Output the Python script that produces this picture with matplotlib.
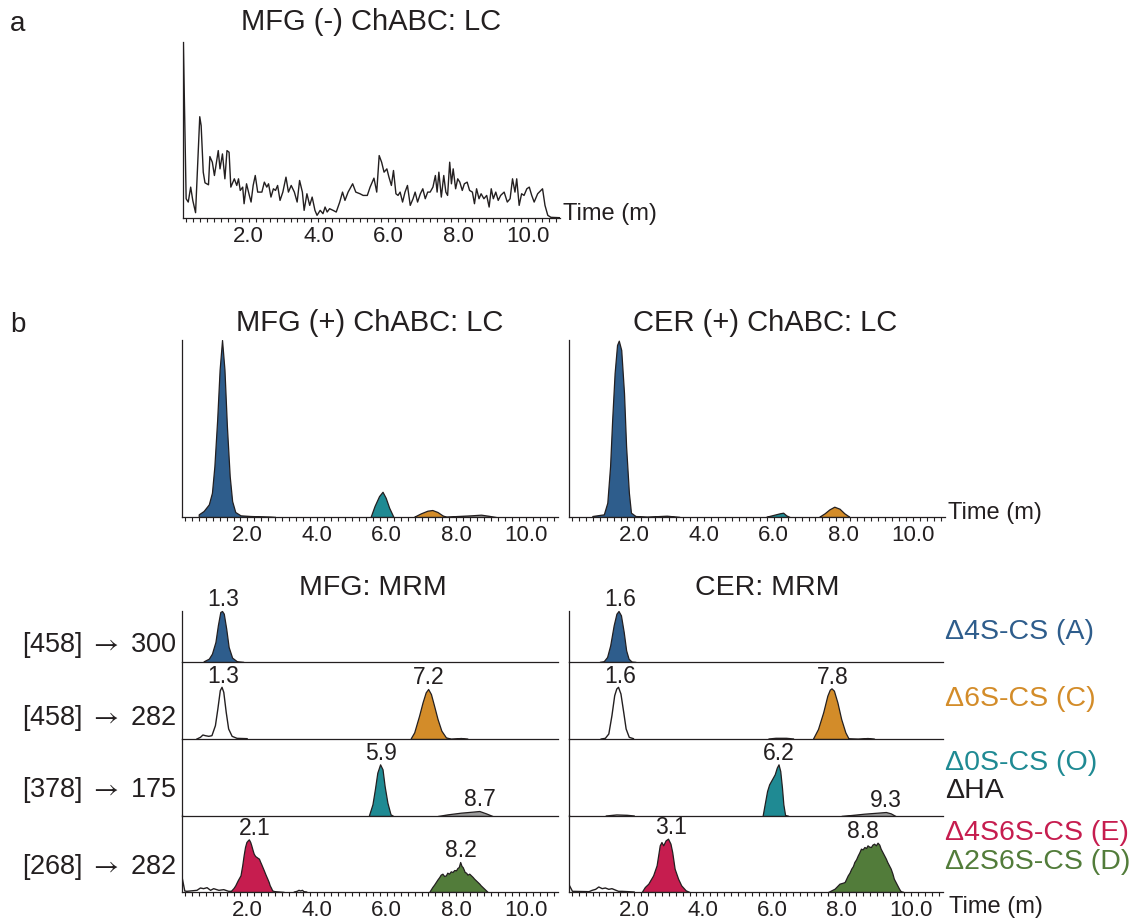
import numpy as np
import matplotlib
matplotlib.use('Agg')
import matplotlib.pyplot as plt
from matplotlib.ticker import MultipleLocator

plt.rcParams['font.family'] = ['Liberation Sans', 'DejaVu Sans']
plt.rcParams['mathtext.fontset'] = 'stixsans'

# ---------------- colours ----------------
INK = '#231f20'
C_A = '#2e5d8c'   # Δ4S-CS (A)
C_C = '#d38c29'   # Δ6S-CS (C)
C_O = '#1f8a93'   # Δ0S-CS (O)
C_HA = '#9c9c9c'  # ΔHA
C_E = '#c61d4f'   # Δ4S6S-CS (E)
C_D = '#527c3a'   # Δ2S6S-CS (D)
C_W = None        # unfilled trace

# ---------------- data ----------------
TICK_POS = [2, 4, 6, 8, 10]
TICK_LABELS = ['2.0', '4.0', '6.0', '8.0', '10.0']
XLIM = (0.12, 10.92)

# panel a: MFG (-) ChABC LC trace  (time [min], intensity [a.u.])
a_trace = [
    (0.13, 530), (0.21, 58), (0.27, 48), (0.34, 93), (0.40, 53), (0.48, 16), (0.60, 305), (0.64, 278),
    (0.70, 138), (0.75, 106), (0.85, 100), (0.89, 185), (0.96, 168), (1.02, 128), (1.13, 203), (1.18, 148),
    (1.25, 193), (1.32, 118), (1.38, 203), (1.44, 198), (1.49, 93), (1.59, 118), (1.66, 98), (1.71, 118),
    (1.76, 83), (1.83, 93), (1.87, 43), (1.94, 103), (2.02, 68), (2.07, 48), (2.13, 98), (2.19, 128),
    (2.26, 78), (2.38, 78), (2.45, 108), (2.52, 93), (2.57, 103), (2.64, 63), (2.71, 88), (2.77, 83),
    (2.83, 98), (2.90, 53), (2.98, 78), (3.07, 123), (3.14, 78), (3.22, 98), (3.31, 78), (3.39, 48),
    (3.46, 113), (3.54, 78), (3.59, 23), (3.67, 73), (3.75, 38), (3.82, 63), (3.90, 23), (3.96, 8),
    (4.05, 23), (4.13, 13), (4.19, 33), (4.25, 18), (4.32, 28), (4.42, 23), (4.51, 18), (4.61, 48),
    (4.69, 78), (4.76, 53), (4.85, 78), (4.98, 103), (5.07, 78), (5.19, 73), (5.28, 68), (5.40, 68),
    (5.48, 93), (5.59, 120), (5.67, 78), (5.74, 188), (5.81, 168), (5.88, 138), (5.96, 148), (6.02, 123),
    (6.09, 98), (6.15, 143), (6.22, 73), (6.28, 68), (6.34, 78), (6.41, 48), (6.48, 78), (6.55, 98),
    (6.63, 38), (6.71, 58), (6.77, 78), (6.84, 48), (6.92, 73), (6.99, 88), (7.06, 58), (7.13, 78),
    (7.20, 78), (7.28, 93), (7.35, 128), (7.40, 78), (7.45, 138), (7.52, 63), (7.59, 128), (7.65, 78),
    (7.70, 68), (7.76, 168), (7.81, 103), (7.86, 148), (7.93, 88), (7.99, 118), (8.05, 108), (8.12, 83),
    (8.18, 103), (8.26, 108), (8.33, 83), (8.41, 78), (8.47, 43), (8.53, 88), (8.60, 58), (8.66, 73),
    (8.74, 58), (8.82, 68), (8.89, 33), (8.95, 88), (9.01, 58), (9.08, 78), (9.15, 53), (9.22, 68),
    (9.32, 78), (9.41, 48), (9.49, 58), (9.56, 118), (9.63, 78), (9.68, 118), (9.75, 38), (9.82, 73),
    (9.89, 68), (9.97, 88), (10.04, 93), (10.11, 68), (10.18, 48), (10.28, 73), (10.42, 88), (10.49, 38),
    (10.57, 8), (10.66, 2), (10.90, 1),
]

# panel b, LC (+) ChABC -- MFG
lc_mfg_A = [(0.60, 8), (0.74, 18), (0.89, 38), (0.98, 73), (1.05, 153), (1.13, 293), (1.20, 443),
            (1.27, 533), (1.34, 443), (1.41, 273), (1.49, 123), (1.56, 48), (1.65, 15), (1.80, 5),
            (2.09, 3), (2.66, 1), (2.80, 0)]
lc_mfg_O = [(5.54, 1), (5.65, 33), (5.78, 63), (5.88, 76), (5.97, 58), (6.07, 28), (6.19, 1)]
lc_mfg_C = [(6.79, 1), (6.98, 11), (7.17, 19), (7.31, 21), (7.46, 15), (7.60, 5), (7.70, 1)]
lc_mfg_HA = [(7.70, 1), (8.03, 3), (8.42, 5), (8.71, 7), (8.91, 4), (9.14, 0)]

# panel b, LC (+) ChABC -- CER
lc_cer_A = [(0.79, 3), (1.12, 8), (1.22, 43), (1.30, 153), (1.36, 293), (1.43, 433), (1.50, 518),
            (1.55, 531), (1.62, 503), (1.70, 373), (1.76, 213), (1.84, 73), (1.90, 13), (2.03, 3),
            (2.36, 1), (2.74, 3), (2.93, 4), (3.12, 2), (3.30, 0)]
lc_cer_O = [(5.79, 1), (5.98, 6), (6.17, 11), (6.27, 13), (6.36, 5), (6.46, 0)]
lc_cer_C = [(7.31, 1), (7.46, 11), (7.60, 23), (7.74, 31), (7.89, 25), (8.03, 11), (8.17, 1)]

# MRM transitions
MRM_LABELS = [r'[458] $\rightarrow$ 300', r'[458] $\rightarrow$ 282',
              r'[378] $\rightarrow$ 175', r'[268] $\rightarrow$ 282']

# MFG: MRM
mfg_r1_A = [(0.74, 2), (0.89, 10), (0.98, 25), (1.08, 60), (1.15, 110), (1.22, 150), (1.27, 153),
            (1.32, 145), (1.39, 100), (1.46, 45), (1.56, 13), (1.70, 2), (1.89, 0)]
mfg_r2_W = [(0.55, 0), (0.65, 5), (0.72, 12), (0.79, 10), (0.89, 8), (0.98, 10), (1.08, 40), (1.15, 90),
            (1.22, 145), (1.27, 155), (1.32, 140), (1.39, 80), (1.46, 30), (1.56, 8), (1.70, 2), (1.99, 1)]
mfg_r2_C = [(6.69, 2), (6.79, 20), (6.93, 70), (7.03, 110), (7.12, 140), (7.19, 150), (7.27, 135),
            (7.36, 100), (7.46, 60), (7.57, 25), (7.70, 5), (7.84, 1), (8.13, 3), (8.32, 1)]
mfg_r3_O = [(5.49, 2), (5.59, 35), (5.66, 80), (5.73, 130), (5.81, 155), (5.88, 140), (5.94, 90),
            (6.02, 40), (6.11, 5), (6.19, 0)]
mfg_r3_HA = [(7.46, 0), (7.75, 5), (8.13, 10), (8.46, 13), (8.66, 15), (8.85, 8), (9.04, 0)]
mfg_r4_W = [(0.13, 40), (0.20, 3), (0.26, 2), (0.55, 5), (0.65, 12), (0.74, 10), (0.84, 13), (0.94, 5),
            (1.03, 10), (1.18, 5), (1.32, 7), (1.46, 2), (1.51, 2)]
mfg_r4_W2 = [(3.35, 0), (3.43, 2), (3.48, 5), (3.53, 3), (3.58, 5), (3.62, 1), (3.70, 0)]
mfg_r4_E = [(1.51, 2), (1.60, 12), (1.65, 20), (1.72, 35), (1.80, 50), (1.85, 80), (1.89, 110), (1.93, 135),
            (1.97, 150), (2.01, 155), (2.04, 158), (2.08, 150), (2.11, 140), (2.15, 125), (2.18, 115),
            (2.22, 108), (2.26, 105), (2.30, 102), (2.33, 100), (2.36, 92), (2.39, 85), (2.43, 75),
            (2.47, 65), (2.52, 52), (2.57, 40), (2.61, 30), (2.64, 20), (2.68, 12), (2.71, 5), (2.76, 3),
            (2.81, 2), (3.05, 0)]
mfg_r4_D = [(7.22, 0), (7.31, 15), (7.36, 22), (7.41, 30), (7.46, 38), (7.51, 45), (7.55, 52), (7.60, 55),
            (7.65, 48), (7.70, 50), (7.74, 58), (7.79, 55), (7.84, 62), (7.89, 60), (7.94, 66), (7.99, 65),
            (8.03, 72), (8.07, 75), (8.11, 90), (8.15, 78), (8.18, 75), (8.21, 68), (8.24, 60), (8.28, 58),
            (8.32, 52), (8.37, 55), (8.42, 50), (8.47, 45), (8.51, 40), (8.56, 35), (8.61, 30), (8.66, 25),
            (8.70, 20), (8.75, 15), (8.80, 10), (8.85, 5), (8.90, 0)]

# CER: MRM
cer_r1_A = [(1.00, 0), (1.12, 2), (1.22, 15), (1.31, 50), (1.41, 110), (1.49, 145), (1.55, 153),
            (1.62, 140), (1.70, 90), (1.77, 35), (1.84, 10), (1.93, 1), (2.05, 0)]
cer_r2_W = [(1.05, 0), (1.17, 2), (1.27, 15), (1.36, 70), (1.44, 130), (1.50, 150), (1.55, 155),
            (1.62, 135), (1.70, 80), (1.77, 30), (1.86, 5), (1.98, 1)]
cer_r2_W2 = [(5.90, 0), (6.10, 2), (6.40, 2), (6.60, 0)]
cer_r2_C = [(7.17, 2), (7.31, 30), (7.46, 80), (7.58, 130), (7.65, 148), (7.70, 152), (7.77, 145),
            (7.87, 110), (7.98, 60), (8.10, 20), (8.19, 2), (8.46, 1), (8.74, 3), (8.93, 1)]
cer_r3_W = [(1.20, 0), (1.50, 3), (1.80, 2), (2.00, 0)]
cer_r3_O = [(5.71, 0), (5.77, 35), (5.84, 75), (5.90, 95), (5.98, 110), (6.06, 125), (6.12, 145),
            (6.17, 155), (6.22, 135), (6.27, 85), (6.31, 35), (6.36, 3), (6.46, 0)]
cer_r3_HA = [(7.98, 0), (8.27, 3), (8.65, 7), (9.03, 10), (9.27, 12), (9.41, 8), (9.55, 0)]
cer_r4_W = [(0.13, 20), (0.22, 2), (0.70, 1), (0.79, 5), (0.89, 8), (0.98, 15), (1.08, 10), (1.17, 12),
            (1.27, 8), (1.36, 10), (1.55, 2), (1.65, 2), (2.00, 0)]
cer_r4_E = [(2.22, 0), (2.31, 15), (2.41, 25), (2.55, 50), (2.65, 80), (2.74, 140), (2.79, 150),
            (2.84, 140), (2.91, 155), (2.98, 160), (3.05, 145), (3.10, 120), (3.17, 70), (3.27, 40),
            (3.36, 20), (3.49, 5), (3.60, 0)]
cer_r4_D = [(7.60, 0), (7.79, 10), (7.93, 25), (8.03, 28), (8.08, 30), (8.17, 50), (8.22, 58), (8.27, 70),
            (8.32, 78), (8.36, 90), (8.41, 98), (8.46, 110), (8.50, 118), (8.55, 130), (8.60, 128),
            (8.65, 135), (8.70, 132), (8.74, 140), (8.79, 136), (8.84, 135), (8.88, 142), (8.93, 145),
            (8.98, 140), (9.03, 148), (9.08, 142), (9.12, 130), (9.17, 120), (9.22, 110), (9.27, 100),
            (9.31, 90), (9.36, 80), (9.41, 70), (9.46, 55), (9.50, 40), (9.55, 30), (9.60, 20),
            (9.65, 10), (9.70, 2), (9.78, 0)]

# retention-time labels (text, row, position in minutes)
mfg_rt = [('1.3', 0, 1.3), ('1.3', 1, 1.3), ('7.2', 1, 7.2), ('5.9', 2, 5.85), ('8.7', 2, 8.68),
          ('2.1', 3, 2.2), ('8.2', 3, 8.13)]
cer_rt = [('1.6', 0, 1.6), ('1.6', 1, 1.6), ('7.8', 1, 7.75), ('6.2', 2, 6.17), ('9.3', 2, 9.27),
          ('3.1', 3, 3.08), ('8.8', 3, 8.6)]

LEGEND = [('\u03944S-CS (A)', C_A), ('\u03946S-CS (C)', C_C), ('\u03940S-CS (O)', C_O),
          ('\u0394HA', INK), ('\u03944S6S-CS (E)', C_E), ('\u03942S6S-CS (D)', C_D)]

# ---------------- figure ----------------
W, H = 1138, 920
fig = plt.figure(figsize=(W / 100, H / 100), dpi=100)


def add_ax(left, top, right, bottom):
    ax = fig.add_axes([left / W, 1 - bottom / H, (right - left) / W, (bottom - top) / H])
    ax.patch.set_alpha(0)
    for s in ('top', 'right'):
        ax.spines[s].set_visible(False)
    for s in ('left', 'bottom'):
        ax.spines[s].set_color(INK)
        ax.spines[s].set_linewidth(0.9)
    ax.set_xlim(*XLIM)
    ax.set_yticks([])
    return ax


def time_axis(ax):
    ax.set_xticks(TICK_POS)
    ax.set_xticklabels(TICK_LABELS)
    ax.xaxis.set_minor_locator(MultipleLocator(0.2))
    ax.tick_params(axis='x', which='both', direction='out', length=3, width=0.8,
                   color=INK, pad=2, labelsize=16, labelcolor=INK)


def no_ticks(ax):
    ax.set_xticks([])
    ax.tick_params(axis='x', which='both', bottom=False, labelbottom=False)


def draw(ax, arr, color):
    t = np.array([p[0] for p in arr])
    v = np.array([p[1] for p in arr])
    if color is None:
        ax.plot(t, v, color=INK, lw=1.0, solid_joinstyle='round')
    else:
        ax.fill_between(t, 0, v, facecolor=color, edgecolor=INK, linewidth=0.9)


def ftext(x, y, s, **kw):
    kw.setdefault('color', INK)
    fig.text(x / W, 1 - y / H, s, **kw)


# ---- panel a ----
ax = add_ax(183, 43, 560, 219)
ax.set_ylim(0, 530)
draw(ax, a_trace, None)
time_axis(ax)
ftext(10, 24, 'a', fontsize=20, ha='left', va='center')
ftext(371, 22, 'MFG (-) ChABC: LC', fontsize=21, ha='center', va='center')
ftext(563, 214, 'Time (m)', fontsize=17, ha='left', va='center')

# ---- panel b LC ----
ftext(10, 325, 'b', fontsize=20, ha='left', va='center')
ax = add_ax(182, 341, 558, 518)
ax.set_ylim(0, 533)
for arr, c in [(lc_mfg_HA, C_HA), (lc_mfg_A, C_A), (lc_mfg_O, C_O), (lc_mfg_C, C_C)]:
    draw(ax, arr, c)
time_axis(ax)
ftext(370, 323, 'MFG (+) ChABC: LC', fontsize=21, ha='center', va='center')

ax = add_ax(569, 341, 945, 518)
ax.set_ylim(0, 533)
for arr, c in [(lc_cer_A, C_A), (lc_cer_O, C_O), (lc_cer_C, C_C)]:
    draw(ax, arr, c)
time_axis(ax)
ftext(765, 323, 'CER (+) ChABC: LC', fontsize=21, ha='center', va='center')
ftext(948, 513, 'Time (m)', fontsize=17, ha='left', va='center')

# ---- MRM ----
ROW_BASE = [663, 740, 817, 893]
ROW_H = 77
YMAX = 231
mfg_rows = [[(mfg_r1_A, C_A)],
            [(mfg_r2_W, C_W), (mfg_r2_C, C_C)],
            [(mfg_r3_HA, C_HA), (mfg_r3_O, C_O)],
            [(mfg_r4_W, C_W), (mfg_r4_W2, C_W), (mfg_r4_E, C_E), (mfg_r4_D, C_D)]]
cer_rows = [[(cer_r1_A, C_A)],
            [(cer_r2_W, C_W), (cer_r2_W2, C_W), (cer_r2_C, C_C)],
            [(cer_r3_W, C_W), (cer_r3_HA, C_HA), (cer_r3_O, C_O)],
            [(cer_r4_W, C_W), (cer_r4_E, C_E), (cer_r4_D, C_D)]]

for (left, right, rows, rts) in [(182, 558, mfg_rows, mfg_rt), (569, 943, cer_rows, cer_rt)]:
    axes = []
    for r, base in enumerate(ROW_BASE):
        ax = add_ax(left, base - ROW_H, right, base)
        ax.set_ylim(0, YMAX)
        for arr, c in rows[r]:
            draw(ax, arr, c)
        if r == 0:
            ax.spines['left'].set_bounds(0, 153)
        if r == 3:
            time_axis(ax)
        else:
            no_ticks(ax)
        axes.append(ax)
    for txt, r, x in rts:
        peak_h = 0
        for arr, c in rows[r]:
            for t, v in arr:
                if abs(t - x) < 0.45:
                    peak_h = max(peak_h, v)
        axes[r].annotate(txt, xy=(x, peak_h), xytext=(0, 0.5), textcoords='offset points',
                         ha='center', va='bottom', fontsize=16.5, color=INK)

ftext(373, 588, 'MFG: MRM', fontsize=20.5, ha='center', va='center')
ftext(767, 588, 'CER: MRM', fontsize=20.5, ha='center', va='center')

for lab, y in zip(MRM_LABELS, [645, 718, 790, 867]):
    ftext(177, y, lab, fontsize=19.5, ha='right', va='center')

for (lab, col), y in zip(LEGEND, [632, 699, 763, 791, 833, 862]):
    ftext(945, y, lab, fontsize=20.5, ha='left', va='center', color=col)

ftext(949, 907, 'Time (m)', fontsize=17, ha='left', va='center')

fig.savefig('out.png', dpi=100)
